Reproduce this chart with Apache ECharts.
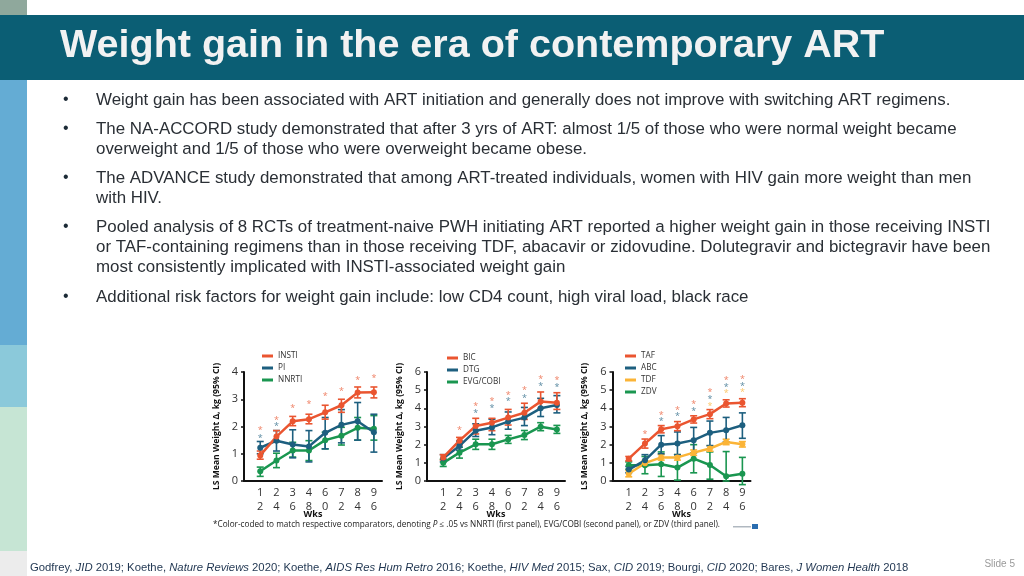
<!DOCTYPE html>
<html><head><meta charset="utf-8">
<script src="https://cdn.jsdelivr.net/npm/echarts@6/dist/echarts.min.js"></script>
<style>html,body{margin:0;padding:0;background:#fff}#c{width:1024px;height:576px}</style>
</head><body><div id="c"></div>
<script>
const weeks = [12, 24, 36, 48, 60, 72, 84, 96];

// Panel 1
const insti   = [0.94, 1.63, 2.19, 2.27, 2.52, 2.78, 3.25, 3.26];
const instiLo = [0.80, 1.45, 2.03, 2.10, 2.27, 2.52, 3.05, 3.05];
const instiHi = [1.10, 1.85, 2.37, 2.45, 2.78, 3.00, 3.45, 3.45];
const pi      = [1.22, 1.48, 1.34, 1.27, 1.77, 2.06, 2.19, 1.79];
const piLo    = [1.00, 1.10, 0.85, 0.70, 1.18, 1.40, 1.50, 1.06];
const piHi    = [1.45, 1.85, 1.88, 1.85, 2.33, 2.62, 2.88, 2.45];
const nnrti   = [0.36, 0.75, 1.12, 1.12, 1.50, 1.66, 1.95, 1.92];
const nnrtiLo = [0.17, 0.49, 0.88, 0.75, 1.18, 1.32, 1.50, 1.50];
const nnrtiHi = [0.51, 1.02, 1.42, 1.48, 1.79, 1.97, 2.33, 2.40];
const p1StarsOrange = [1.85, 2.24, 2.67, 2.82, 3.12, 3.30, 3.70, 3.77];
const p1StarsBlue   = [1.58, 2.00, null, null, null, null, null, null];

// Panel 2
const bic    = [1.30, 2.22, 3.03, 3.21, 3.49, 3.76, 4.37, 4.31];
const bicLo  = [1.15, 2.00, 2.59, 2.77, 3.08, 3.39, 4.00, 3.94];
const bicHi  = [1.45, 2.40, 3.45, 3.45, 3.94, 4.28, 4.90, 4.86];
const dtg    = [1.25, 1.93, 2.77, 2.95, 3.27, 3.49, 4.00, 4.18];
const dtgLo  = [1.05, 1.70, 2.45, 2.55, 2.85, 3.05, 3.55, 3.75];
const dtgHi  = [1.45, 2.20, 3.15, 3.40, 3.80, 4.05, 4.55, 4.70];
const evg    = [1.00, 1.56, 2.02, 2.02, 2.29, 2.53, 2.99, 2.84];
const evgLo  = [0.80, 1.26, 1.74, 1.74, 2.07, 2.28, 2.77, 2.62];
const evgHi  = [1.20, 1.86, 2.30, 2.30, 2.51, 2.78, 3.21, 3.06];
const p2StarsOrange = [null, 2.80, 4.09, 4.37, 4.70, 5.00, 5.60, 5.56];
const p2StarsBlue   = [null, null, 3.72, 4.00, 4.37, 4.55, 5.19, 5.15];

// Panel 3
const taf    = [1.23, 2.06, 2.85, 3.02, 3.39, 3.68, 4.27, 4.31];
const tafLo  = [1.11, 1.81, 2.65, 2.77, 3.19, 3.43, 4.07, 4.09];
const tafHi  = [1.35, 2.31, 3.05, 3.27, 3.59, 3.93, 4.47, 4.53];
const abc    = [0.63, 1.14, 2.00, 2.06, 2.25, 2.65, 2.80, 3.07];
const abcLo  = [0.45, 0.85, 1.50, 1.45, 1.55, 1.95, 2.15, 2.35];
const abcHi  = [0.80, 1.45, 2.50, 2.70, 2.95, 3.30, 3.50, 3.75];
const tdf    = [0.40, 0.98, 1.30, 1.30, 1.56, 1.79, 2.15, 2.02];
const tdfLo  = [0.23, 0.83, 1.15, 1.15, 1.41, 1.64, 2.00, 1.87];
const tdfHi  = [0.57, 1.13, 1.45, 1.45, 1.71, 1.94, 2.30, 2.17];
const zdv    = [0.87, 0.87, 0.92, 0.74, 1.23, 0.88, 0.26, 0.40];
const zdvLo  = [0.65, 0.40, 0.25, 0.05, 0.45, 0.10, 0.00, -0.20];
const zdvHi  = [1.05, 1.35, 1.60, 1.45, 2.00, 1.60, 1.62, 1.30];
const p3StarsOrange = [null, 2.54, 3.63, 3.90, 4.24, 4.87, 5.52, 5.60];
const p3StarsBlue   = [null, null, 3.28, 3.55, 3.85, 4.50, 5.16, 5.23];
const p3StarsYellow = [null, null, null, null, null, 4.12, 4.84, 4.87];

const ORANGE = '#ea5530', BLUE = '#1d5f7f', GREEN = '#1a9650', YELLOW = '#fbb437';
const CH_FONT = 'Open Sans, Liberation Sans, sans-serif';
const BODY_FONT = '"Liberation Sans", Arial, sans-serif';

const bullets = [
  ['Weight gain has been associated with ART initiation and generally does not improve with switching ART regimens.'],
  ['The NA-ACCORD study demonstrated that after 3 yrs of ART: almost 1/5 of those who were normal weight became',
   'overweight and 1/5 of those who were overweight became obese.'],
  ['The ADVANCE study demonstrated that among ART-treated individuals, women with HIV gain more weight than men',
   'with HIV.'],
  ['Pooled analysis of 8 RCTs of treatment-naive PWH initiating ART reported a higher weight gain in those receiving INSTI',
   'or TAF-containing regimens than in those receiving TDF, abacavir or zidovudine. Dolutegravir and bictegravir have been',
   'most consistently implicated with INSTI-associated weight gain'],
  ['Additional risk factors for weight gain include: low CD4 count, high viral load, black race']
];
const bulletTops = [100, 129, 178, 227, 297];

const gridLefts = [244, 427, 612.5];
const gridWidth = 138;
const yMaxes = [4, 6, 6];

const graphics = [
  {type:'rect', shape:{x:0,y:0,width:27,height:15}, style:{fill:'#8fa89c'}},
  {type:'rect', shape:{x:0,y:15,width:1024,height:65}, style:{fill:'#0b5e74'}},
  {type:'rect', shape:{x:0,y:80,width:27,height:265}, style:{fill:'#64acd4'}},
  {type:'rect', shape:{x:0,y:345,width:27,height:62}, style:{fill:'#8bc9da'}},
  {type:'rect', shape:{x:0,y:407,width:27,height:144}, style:{fill:'#c6e5d4'}},
  {type:'rect', shape:{x:0,y:551,width:27,height:25}, style:{fill:'#ececec'}},
  {type:'text', x:60, y:46, style:{text:'Weight gain in the era of contemporary ART', font:'bold 39.5px ' + BODY_FONT, fill:'#f2f2f2', verticalAlign:'middle'}},
  {type:'text', x:30, y:568, style:{
    text:'Godfrey, {i|JID} 2019; Koethe, {i|Nature Reviews} 2020; Koethe, {i|AIDS Res Hum Retro} 2016; Koethe, {i|HIV Med} 2015; Sax, {i|CID} 2019; Bourgi, {i|CID} 2020; Bares, {i|J Women Health} 2018',
    font:'11.3px ' + BODY_FONT, fill:'#1f3550', verticalAlign:'middle',
    rich:{i:{fontStyle:'italic', fontSize:11.3, fontFamily:BODY_FONT, fill:'#1f3550'}}}},
  {type:'text', x:1015, y:564, style:{text:'Slide 5', font:'10px ' + BODY_FONT, fill:'#9a9a9a', align:'right', verticalAlign:'middle'}},
  {type:'text', x:213, y:525, style:{
    text:'*Color-coded to match respective comparators, denoting {i|P} ≤ .05 vs NNRTI (first panel), EVG/COBI (second panel), or ZDV (third panel).',
    font:'8.2px ' + CH_FONT, fill:'#222', verticalAlign:'middle',
    rich:{i:{fontStyle:'italic', fontSize:8.2, fontFamily:CH_FONT, fill:'#222'}}}},
  {type:'rect', shape:{x:733,y:526,width:18,height:1.5}, style:{fill:'#b0b8c0'}},
  {type:'rect', shape:{x:752,y:524,width:6,height:5}, style:{fill:'#2a6db0'}}
];
bullets.forEach((lines, i) => {
  graphics.push({type:'text', x:63, y:bulletTops[i], style:{text:'•', font:'16px ' + BODY_FONT, fill:'#1c2a36', verticalAlign:'middle'}});
  lines.forEach((ln, j) => {
    graphics.push({type:'text', x:96, y:bulletTops[i] + j*20, style:{text:ln, font:'16.9px ' + BODY_FONT, fill:'#2a2f35', verticalAlign:'middle'}});
  });
});
// x-axis titles ("Wks") under each panel
gridLefts.forEach(l => {
  graphics.push({type:'text', x:l + gridWidth/2, y:514.5, style:{text:'Wks', font:'bold 9px ' + CH_FONT, fill:'#111', align:'center', verticalAlign:'middle'}});
});

const grids = gridLefts.map(l => ({left:l, top:372, width:gridWidth, height:109}));
const xAxes = gridLefts.map((l, i) => ({
  type:'value', gridIndex:i, min:0, max:102, interval:12,
  axisLine:{lineStyle:{color:'#111', width:2}}, axisTick:{show:false}, splitLine:{show:false},
  axisLabel:{fontFamily:CH_FONT, fontSize:11, color:'#333', lineHeight:14, margin:5,
    showMaxLabel:false, showMinLabel:false,
    formatter: v => (v > 0 && v <= 96 && v % 12 === 0) ? String(v).split('').join('\n') : ''}
}));
const yAxes = gridLefts.map((l, i) => ({
  type:'value', gridIndex:i, min:0, max:yMaxes[i], interval:1,
  name:'LS Mean Weight Δ, kg (95% CI)', nameLocation:'middle', nameGap:23,
  nameTextStyle:{fontFamily:CH_FONT, fontWeight:'bold', fontSize:8.6, color:'#111'},
  axisLine:{show:true, lineStyle:{color:'#111', width:2}},
  axisTick:{show:true, length:3, lineStyle:{color:'#111', width:1.5}},
  splitLine:{show:false},
  axisLabel:{fontFamily:CH_FONT, fontSize:11, color:'#333', margin:6}
}));

const series = [];
function addGroup(idx, name, color, vals, lo, hi) {
  series.push({
    type:'custom', xAxisIndex:idx, yAxisIndex:idx, clip:false, z:2, silent:true,
    data: weeks.map((w, k) => [w, lo[k], hi[k]]),
    encode:{x:0, y:[1,2]},
    renderItem:(params, api) => {
      const x = api.value(0);
      const a = api.coord([x, api.value(1)]);
      const b = api.coord([x, api.value(2)]);
      const hw = 3.5;
      const st = {stroke:color, lineWidth:1.6};
      return {type:'group', children:[
        {type:'line', shape:{x1:a[0], y1:a[1], x2:b[0], y2:b[1]}, style:st},
        {type:'line', shape:{x1:a[0]-hw, y1:a[1], x2:a[0]+hw, y2:a[1]}, style:st},
        {type:'line', shape:{x1:b[0]-hw, y1:b[1], x2:b[0]+hw, y2:b[1]}, style:st}
      ]};
    }
  });
  series.push({
    type:'line', name:name, xAxisIndex:idx, yAxisIndex:idx, z:3,
    data: weeks.map((w, k) => [w, vals[k]]),
    symbol:'circle', symbolSize:6, showSymbol:true,
    lineStyle:{color:color, width:2.5}, itemStyle:{color:color}
  });
}
function addStars(idx, vals, color) {
  series.push({
    type:'custom', xAxisIndex:idx, yAxisIndex:idx, clip:false, z:4, silent:true,
    data: weeks.map((w, k) => [w, vals[k]]).filter(d => d[1] !== null),
    encode:{x:0, y:1},
    renderItem:(params, api) => {
      const p = api.coord([api.value(0), api.value(1)]);
      return {type:'text', x:p[0], y:p[1], style:{text:'*', fill:color, font:'9px ' + CH_FONT, align:'center', verticalAlign:'middle', opacity:0.75}};
    }
  });
}

addGroup(0, 'NNRTI', GREEN, nnrti, nnrtiLo, nnrtiHi);
addGroup(0, 'PI', BLUE, pi, piLo, piHi);
addGroup(0, 'INSTI', ORANGE, insti, instiLo, instiHi);
addStars(0, p1StarsOrange, ORANGE);
addStars(0, p1StarsBlue, BLUE);

addGroup(1, 'EVG/COBI', GREEN, evg, evgLo, evgHi);
addGroup(1, 'DTG', BLUE, dtg, dtgLo, dtgHi);
addGroup(1, 'BIC', ORANGE, bic, bicLo, bicHi);
addStars(1, p2StarsOrange, ORANGE);
addStars(1, p2StarsBlue, BLUE);

addGroup(2, 'ZDV', GREEN, zdv, zdvLo, zdvHi);
addGroup(2, 'TDF', YELLOW, tdf, tdfLo, tdfHi);
addGroup(2, 'ABC', BLUE, abc, abcLo, abcHi);
addGroup(2, 'TAF', ORANGE, taf, tafLo, tafHi);
addStars(2, p3StarsOrange, ORANGE);
addStars(2, p3StarsBlue, BLUE);
addStars(2, p3StarsYellow, YELLOW);

const legendBase = {orient:'vertical', icon:'rect', itemWidth:11, itemHeight:3, itemGap:4,
  textStyle:{fontFamily:CH_FONT, fontSize:8.2, color:'#333'}, padding:0, selectedMode:false};
const legends = [
  Object.assign({}, legendBase, {left:262, top:352, data:['INSTI','PI','NNRTI']}),
  Object.assign({}, legendBase, {left:447, top:354, data:['BIC','DTG','EVG/COBI']}),
  Object.assign({}, legendBase, {left:625, top:352, data:['TAF','ABC','TDF','ZDV']})
];

const chart = echarts.init(document.getElementById('c'), null, {renderer:'canvas'});
chart.setOption({
  animation:false,
  backgroundColor:'#ffffff',
  grid:grids, xAxis:xAxes, yAxis:yAxes,
  legend:legends,
  series:series,
  graphic:{elements:graphics}
});
</script></body></html>
